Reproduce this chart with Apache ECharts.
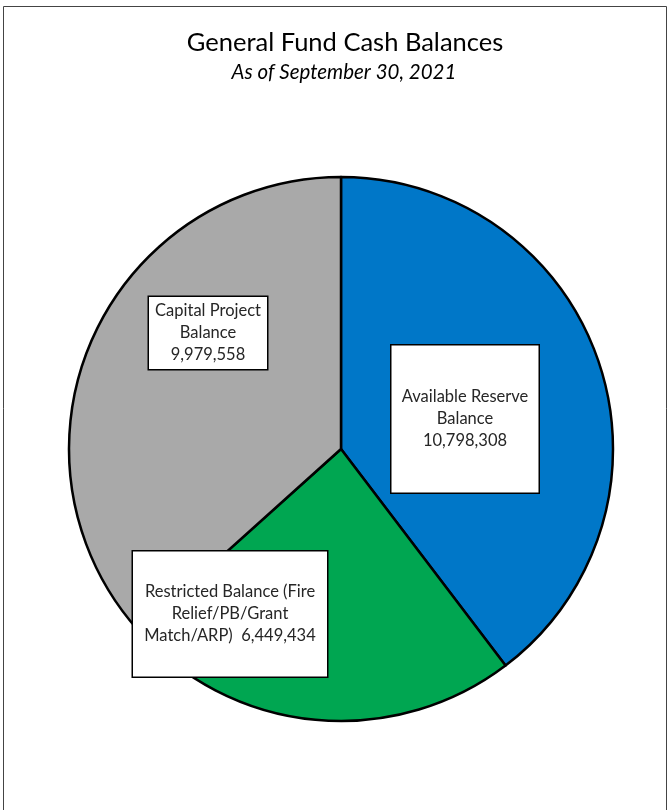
<!DOCTYPE html>
<html><head><meta charset="utf-8">
<script src="https://cdn.jsdelivr.net/npm/echarts@6/dist/echarts.min.js"></script>
<style>html,body{margin:0;padding:0;background:#fff}#c{width:669px;height:810px}</style>
</head><body><div id="c"></div>
<script>
const titleText = 'General Fund Cash Balances';
const subtitleText = 'As of September 30, 2021';
const categories = ['Available Reserve Balance', 'Restricted Balance (Fire Relief/PB/Grant Match/ARP)', 'Capital Project Balance'];
const values = [10798308, 6449434, 9979558];
const labelLines = [
  ['Available Reserve', 'Balance', '10,798,308'],
  ['Restricted Balance (Fire', 'Relief/PB/Grant', 'Match/ARP)  6,449,434'],
  ['Capital Project', 'Balance', '9,979,558']
];
const colors = ['#0077C8', '#00A651', '#A9A9A9'];

// label box layout (style only)
const boxes = [
  {cx: 465, cy: 419, w: 149, h: 147},
  {cx: 230, cy: 614, w: 196, h: 125},
  {cx: 208, cy: 333, w: 120, h: 72}
];
const FONT = 'Lato';
const LH = 22;

const chart = echarts.init(document.getElementById('c'));
chart.setOption({
  backgroundColor: '#fff',
  animation: false,
  title: [
    {text: titleText, left: 340, textAlign: 'center', top: 25, textStyle: {fontFamily: FONT, fontWeight: 'normal', fontSize: 25.5, color: '#000'}},
    {text: subtitleText, left: 339, textAlign: 'center', top: 57, textStyle: {fontFamily: FONT, fontStyle: 'italic', fontWeight: 'normal', fontSize: 20.5, color: '#000'}}
  ],
  graphic: [{type: 'rect', shape: {x: 3.5, y: 6.5, width: 663, height: 900}, style: {fill: 'none', stroke: '#444', lineWidth: 1}}],
  series: [{
    type: 'pie',
    center: [341, 449],
    radius: [0, 272],
    startAngle: 90,
    clockwise: true,
    silent: true,
    itemStyle: {borderColor: '#000', borderWidth: 2.5},
    labelLine: {show: false},
    data: values.map((v, i) => ({
      name: categories[i], value: v,
      itemStyle: {color: colors[i]},
      label: {
        show: true,
        formatter: labelLines[i].join('\n'),
        fontFamily: FONT, fontSize: 16.5, color: '#262626', lineHeight: LH,
        backgroundColor: '#fff', borderColor: '#000', borderWidth: 1.5,
        width: boxes[i].w - 2,
        padding: [(boxes[i].h - 3 * LH) / 2, 0, (boxes[i].h - 3 * LH) / 2, 0],
        align: 'center'
      }
    })),
    label: {position: 'inside'},
    labelLayout: function (p) {
      const b = boxes[p.dataIndex];
      return {x: b.cx, y: b.cy, align: 'center', verticalAlign: 'middle'};
    }
  }]
});
</script></body></html>
